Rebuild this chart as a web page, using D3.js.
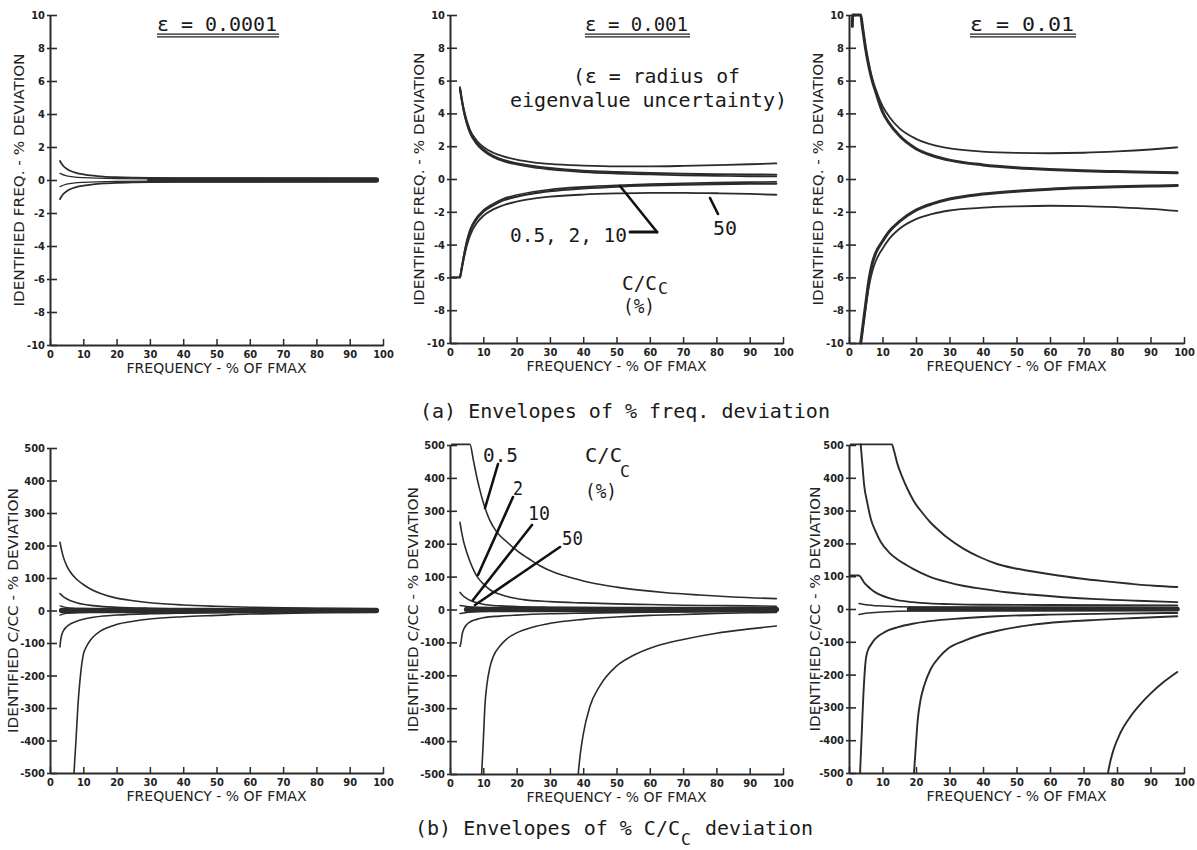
<!DOCTYPE html>
<html><head><meta charset="utf-8">
<script src="https://cdn.jsdelivr.net/npm/d3@7"></script>
<style>body{margin:0;background:#fff} svg{display:block}</style>
</head><body><svg id="c" width="1197" height="850"></svg>
<script>
// ---------------- DATA ----------------
const xTicks = [0,10,20,30,40,50,60,70,80,90,100];
const freqYTicks = [10,8,6,4,2,0,-2,-4,-6,-8,-10];
const dampYTicks = [500,400,300,200,100,0,-100,-200,-300,-400,-500];
const epsLabels = ["ε = 0.0001","ε = 0.001","ε = 0.01"];

// (a) eps = 0.0001
const tlUpper = [[3,1.15],[3.5,0.98],[4,0.85],[5,0.68],[6,0.56],[8,0.42],[10,0.34],[13,0.26],[16,0.21],[20,0.17],[25,0.14],[30,0.12],[40,0.1],[60,0.09],[98,0.08]];
const tlLower = [[3,-1.15],[3.5,-0.98],[4,-0.85],[5,-0.68],[6,-0.56],[8,-0.42],[10,-0.34],[13,-0.26],[16,-0.21],[20,-0.17],[25,-0.14],[30,-0.12],[40,-0.1],[60,-0.09],[98,-0.08]];
const tlInnerUp = [[3,0.4],[5,0.25],[10,0.14],[20,0.08],[40,0.05],[98,0.04]];
const tlInnerLow = [[3,-0.4],[5,-0.25],[10,-0.14],[20,-0.08],[40,-0.05],[98,-0.04]];
const tlBand = [[30,0],[98,0]];

// (a) eps = 0.001
const tmUp50 = [[3,5.6],[4,4.4],[5,3.6],[6,3.0],[8,2.35],[10,1.95],[13,1.6],[16,1.38],[20,1.18],[25,1.02],[30,0.92],[40,0.82],[50,0.77],[60,0.77],[70,0.8],[80,0.85],[90,0.9],[98,0.95]];
const tmUpA = [[3,5.5],[4,4.3],[5,3.45],[6,2.85],[8,2.2],[10,1.8],[13,1.4],[16,1.15],[20,0.95],[25,0.78],[30,0.66],[40,0.5],[50,0.42],[60,0.36],[70,0.32],[80,0.29],[90,0.27],[98,0.26]];
const tmUpB = [[3,5.45],[4,4.25],[5,3.4],[6,2.8],[8,2.12],[10,1.72],[13,1.33],[16,1.08],[20,0.88],[25,0.7],[30,0.58],[40,0.42],[50,0.33],[60,0.27],[70,0.22],[80,0.19],[90,0.16],[98,0.15]];
const tmLowA = [[0.6,-6],[3,-6],[3.4,-5.6],[4,-4.9],[5,-3.9],[6,-3.2],[8,-2.45],[10,-2.0],[13,-1.6],[16,-1.3],[20,-1.08],[25,-0.88],[30,-0.74],[40,-0.57],[50,-0.46],[60,-0.39],[70,-0.34],[80,-0.31],[90,-0.29],[98,-0.28]];
const tmLowB = [[3,-6],[3.4,-5.5],[4,-4.8],[5,-3.8],[6,-3.1],[8,-2.35],[10,-1.9],[13,-1.5],[16,-1.2],[20,-0.98],[25,-0.78],[30,-0.64],[40,-0.48],[50,-0.38],[60,-0.31],[70,-0.26],[80,-0.22],[90,-0.19],[98,-0.17]];
const tmLow50 = [[3,-6],[3.4,-5.6],[4,-5.0],[5,-4.1],[6,-3.45],[8,-2.7],[10,-2.25],[13,-1.85],[16,-1.6],[20,-1.38],[25,-1.2],[30,-1.08],[40,-0.95],[50,-0.88],[60,-0.84],[70,-0.84],[80,-0.87],[90,-0.91],[98,-0.96]];

// (a) eps = 0.01
const trUpA = [[1,9.3],[1.1,10],[3.5,10],[4,9.3],[5,7.9],[6,6.8],[7,5.95],[8,5.3],[10,4.1],[12,3.4],[15,2.65],[20,1.85],[25,1.42],[30,1.15],[40,0.86],[50,0.69],[60,0.58],[70,0.5],[80,0.45],[90,0.41],[98,0.38]];
const trUpB = [[3.5,10],[4,9.35],[5,7.95],[6,6.9],[7,6.05],[8,5.45],[10,4.45],[12,3.8],[15,3.1],[20,2.45],[25,2.08],[30,1.87],[40,1.67],[50,1.59],[60,1.57],[70,1.6],[80,1.68],[90,1.8],[98,1.93]];
const trLowA = [[3.5,-10],[4,-9.2],[5,-7.6],[6,-6.1],[7,-5.1],[8,-4.5],[10,-3.8],[12,-3.2],[15,-2.6],[20,-1.9],[25,-1.5],[30,-1.22],[40,-0.92],[50,-0.74],[60,-0.62],[70,-0.54],[80,-0.48],[90,-0.43],[98,-0.4]];
const trLowB = [[3.5,-10],[4,-9.3],[5,-7.8],[6,-6.5],[7,-5.6],[8,-5.0],[10,-4.25],[12,-3.65],[15,-3.05],[20,-2.45],[25,-2.12],[30,-1.92],[40,-1.75],[50,-1.67],[60,-1.63],[70,-1.65],[80,-1.72],[90,-1.82],[98,-1.95]];

// (b) eps = 0.0001
const blUp1 = [[3,210],[3.5,185],[4,165],[5,138],[6,120],[8,96],[10,80],[12,67],[15,53],[20,38],[25,30],[30,24],[40,17],[50,13],[60,10],[70,8],[80,7],[90,6],[98,5]];
const blUp2 = [[3,52],[4,43],[5,36],[6,31],[8,24],[10,19],[13,15],[16,12],[20,10],[30,7],[40,5],[60,4],[98,3]];
const blLow1 = [[3,-112],[3.2,-92],[3.5,-76],[4,-63],[5,-50],[6,-42],[8,-33],[10,-27],[13,-21],[16,-17],[20,-14],[30,-10],[40,-8],[60,-6],[98,-4]];
const blLow2 = [[7.2,-500],[7.8,-400],[8.4,-290],[9,-215],[9.5,-168],[10,-136],[11,-110],[12,-93],[13,-81],[15,-64],[17,-54],[20,-43],[25,-33],[30,-26],[40,-19],[50,-15],[60,-11],[70,-9],[80,-7],[90,-6],[98,-5]];
const blInUp = [[3,14],[5,9],[10,6],[20,4],[98,2]];
const blInLow = [[3,-14],[5,-9],[10,-6],[20,-4],[98,-2]];
const blBand = [[3.5,0],[98,0]];

// (b) eps = 0.001
const bmUp05 = [[0.5,502],[6,502],[7,455],[8,405],[9,362],[10,325],[11,295],[12,270],[14,236],[17,206],[20,180],[24,152],[27,133],[32,110],[37,95],[42,82],[50,68],[57,59],[65,51],[75,44],[85,38],[98,33]];
const bmUp2 = [[3,265],[3.5,235],[4,210],[5,175],[6,146],[7,122],[8,102],[10,78],[12,60],[15,46],[18,37],[22,30],[30,24],[40,20],[50,17],[60,15],[70,13],[80,12],[90,11],[98,10]];
const bmUp10 = [[3,52],[4,41],[5,34],[6,28],[8,21],[10,16],[15,11],[20,9],[30,7],[50,5],[98,4]];
const bmUp50 = [[3,12],[5,9],[10,6],[20,4],[98,3]];
const bmLow1 = [[3,-112],[3.3,-100],[3.6,-78],[4,-63],[5,-46],[6,-38],[8,-30],[10,-25],[15,-20],[20,-17],[30,-13],[40,-11],[60,-8],[80,-7],[98,-6]];
const bmLow2 = [[9.5,-500],[10,-400],[10.5,-290],[11,-235],[12,-175],[13,-143],[15,-111],[17,-90],[20,-71],[25,-53],[30,-42],[40,-30],[50,-23],[60,-18],[70,-15],[80,-12],[90,-10],[98,-9]];
const bmLow3 = [[38.5,-500],[39,-450],[40,-380],[42,-295],[45,-232],[50,-172],[55,-140],[62,-111],[70,-91],[80,-72],[90,-59],[98,-50]];
const bmLowIn = [[3,-12],[5,-9],[10,-6],[20,-4],[98,-3]];
const bmBand = [[5,0],[98,0]];

// (b) eps = 0.01
const brUp1 = [[0.5,502],[12.8,502],[13.5,480],[14.4,444],[16,400],[17.5,365],[19.4,328],[22,292],[24.4,263],[27,238],[29.4,217],[34,185],[39.3,157],[44,138],[49,125],[54,116],[60,106],[69,93],[76,85],[84,77],[91,71],[98,67]];
const brUp2 = [[3.5,502],[4,440],[4.5,380],[5.5,322],[6.5,275],[8,235],[9.5,204],[12,172],[14.4,152],[17,135],[19.4,121],[24,99],[29.4,82],[34,71],[39.3,62],[47,51],[54,44],[64,36],[74,30],[86,25],[98,21]];
const brUp3 = [[0.5,102],[3,102],[3.5,97],[4,89],[4.5,81],[5.5,70],[6.5,61],[8,50],[9.5,42],[12,33],[14.4,27],[19,21],[24,17],[30,15],[40,13],[60,12],[98,11]];
const brUpIn = [[3,17],[5,13],[10,9],[20,6],[98,4]];
const brLowIn = [[3,-17],[5,-13],[10,-9],[20,-6],[98,-4]];
const brLow1 = [[3.3,-500],[3.8,-380],[4.3,-260],[5,-155],[5.5,-130],[6.5,-110],[7.5,-95],[9,-81],[10.4,-72],[12,-64],[14.4,-56],[19,-45],[24,-37],[34,-28],[44,-22],[60,-17],[80,-14],[98,-12]];
const brLow2 = [[19.4,-500],[20,-410],[20.5,-340],[21.4,-275],[22.4,-235],[24.4,-183],[27,-146],[29.4,-122],[34.3,-97],[39,-80],[44,-67],[54,-49],[64,-39],[74,-33],[84,-28],[98,-22]];
const brLow3 = [[77.3,-500],[78,-465],[79,-428],[81,-378],[84,-328],[87,-290],[90,-258],[94,-222],[98,-192]];
const brBand = [[18,0],[98,0]];

// ---------------- DRAW ----------------
const svg = d3.select("#c");
const INK = "#2b2b2b";
const MONO = "'DejaVu Sans Mono','Liberation Mono',monospace";
const NARROW = "'Liberation Sans Narrow','DejaVu Sans Condensed','Liberation Sans',sans-serif";
const fmt = d => String(d);

const panels = [
  {x0:50,x1:383,yT:15,yB:345,dom:[-10,10],yt:freqYTicks,yTitle:"IDENTIFIED FREQ. - % DEVIATION",yTx:19,yLen:253,
   series:[[tlUpper,1.8],[tlLower,1.8],[tlInnerUp,1.3],[tlInnerLow,1.3],[tlBand,5.5]]},
  {x0:450,x1:783,yT:15,yB:343,dom:[-10,10],yt:freqYTicks,yTitle:"IDENTIFIED FREQ. - % DEVIATION",yTx:419,yLen:253,
   series:[[tmUp50,1.8],[tmUpA,2.2],[tmUpB,1.6],[tmLowA,2.2],[tmLowB,1.6],[tmLow50,1.8]]},
  {x0:849,x1:1184,yT:15,yB:343,dom:[-10,10],yt:freqYTicks,yTitle:"IDENTIFIED FREQ. - % DEVIATION",yTx:818,yLen:253,
   series:[[trUpA,3],[trUpB,1.8],[trLowA,3],[trLowB,1.8]]},
  {x0:50,x1:383,yT:448,yB:773,dom:[-500,500],yt:dampYTicks,yTitle:"IDENTIFIED C/CC - % DEVIATION",yTx:12.5,yLen:245,
   series:[[blUp1,1.6],[blUp2,1.6],[blLow1,1.6],[blLow2,1.6],[blInUp,1.4],[blInLow,1.4],[blBand,5.5]]},
  {x0:450,x1:783,yT:445,yB:774,dom:[-500,500],yt:dampYTicks,yTitle:"IDENTIFIED C/CC - % DEVIATION",yTx:413,yLen:245,
   series:[[bmUp05,1.6],[bmUp2,1.6],[bmUp10,1.6],[bmUp50,1.4],[bmLow1,1.6],[bmLow2,1.6],[bmLow3,1.6],[bmLowIn,1.4],[bmBand,5.5]]},
  {x0:849,x1:1184,yT:445,yB:773,dom:[-500,500],yt:dampYTicks,yTitle:"IDENTIFIED C/CC - % DEVIATION",yTx:815,yLen:245,
   series:[[brUp1,1.9],[brUp2,1.9],[brUp3,1.9],[brUpIn,1.5],[brLowIn,1.5],[brLow1,1.9],[brLow2,1.9],[brLow3,1.9],[brBand,5]]}
];

panels.forEach(p => {
  const x = d3.scaleLinear([0,100],[p.x0,p.x1]);
  const y = d3.scaleLinear(p.dom,[p.yB,p.yT]);
  const g = svg.append("g");

  // y axis
  const ya = g.append("g").attr("transform",`translate(${p.x0},0)`)
    .call(d3.axisLeft(y).tickValues(p.yt).tickFormat(fmt).tickSizeInner(-7).tickSizeOuter(0).tickPadding(5));
  ya.select(".domain").attr("stroke",INK).attr("stroke-width",2);
  ya.selectAll(".tick line").attr("x1",-3).attr("stroke",INK).attr("stroke-width",1.6);
  ya.selectAll(".tick text").attr("font-family",NARROW).attr("font-weight","bold")
    .attr("font-size",11).attr("fill","#222");

  // x axis
  const xa = g.append("g").attr("transform",`translate(0,${p.yB})`)
    .call(d3.axisBottom(x).tickValues(xTicks).tickFormat(fmt).tickSizeInner(-6).tickSizeOuter(0).tickPadding(5));
  xa.select(".domain").attr("stroke",INK).attr("stroke-width",2);
  xa.selectAll(".tick line").attr("y1",1).attr("stroke",INK).attr("stroke-width",1.5);
  xa.selectAll(".tick text").attr("font-family",NARROW).attr("font-weight","bold")
    .attr("font-size",11).attr("fill","#222");

  // axis titles
  g.append("text").attr("x",(p.x0+p.x1)/2).attr("y",p.yB+28).attr("text-anchor","middle")
    .attr("font-family","'DejaVu Sans',sans-serif").attr("font-size",14).attr("fill","#222")
    .attr("textLength",180).attr("lengthAdjust","spacingAndGlyphs")
    .text("FREQUENCY - % OF FMAX");
  g.append("text").attr("transform",`translate(${p.yTx},${(p.yT+p.yB)/2}) rotate(-90)`)
    .attr("text-anchor","middle").attr("dominant-baseline","central")
    .attr("font-family","'DejaVu Sans',sans-serif").attr("font-size",14).attr("fill","#222")
    .attr("textLength",p.yLen).attr("lengthAdjust","spacingAndGlyphs")
    .text(p.yTitle);

  // curves
  const line = d3.line().x(d=>x(d[0])).y(d=>y(d[1])).curve(d3.curveMonotoneX);
  p.series.forEach(([data,w]) => {
    g.append("path").attr("d",line(data)).attr("fill","none")
      .attr("stroke",INK).attr("stroke-width",w).attr("stroke-linejoin","round").attr("stroke-linecap","round");
  });
});

// titles with double underline
const titleBoxes = [[157,120],[585,103],[970,104]];
epsLabels.forEach((t,i) => {
  const [tx,tw] = titleBoxes[i];
  svg.append("text").attr("x",tx).attr("y",31).attr("font-family",MONO).attr("font-size",20)
    .attr("fill","#1a1a1a").attr("textLength",tw).attr("lengthAdjust","spacingAndGlyphs").text(t);
  [34.2,36.8].forEach(yy => svg.append("line").attr("x1",tx).attr("x2",tx+tw+2).attr("y1",yy).attr("y2",yy)
    .attr("stroke","#1a1a1a").attr("stroke-width",1.3));
});

function mtext(str,x,y,len,size){
  const t = svg.append("text").attr("x",x).attr("y",y).attr("font-family",MONO)
    .attr("font-size",size||20).attr("fill","#1a1a1a").text(str);
  if(len) t.attr("textLength",len).attr("lengthAdjust","spacingAndGlyphs");
  return t;
}
function seg(x1,y1,x2,y2,w){
  svg.append("line").attr("x1",x1).attr("y1",y1).attr("x2",x2).attr("y2",y2)
    .attr("stroke","#111").attr("stroke-width",w||2.6).attr("stroke-linecap","round");
}

// annotation in middle top panel
mtext("(ε = radius of",573,83,167);
mtext("eigenvalue uncertainty)",510,107,277);
mtext("0.5, 2, 10",510,242,117);
seg(630,232,657,232,3);
seg(657,232,620,186,2.6);
mtext("50",713,235,24);
seg(718,214,710,198,2.6);
mtext("C/C",622,290,35);
mtext("C",658,294,10,16);
mtext("(%)",623,313,32);

// annotation in middle bottom panel
mtext("0.5",483,462,35);
mtext("2",513,495,10);
mtext("10",528,520,22);
mtext("50",562,545,21);
mtext("C/C",585,462,37);
mtext("C",620,477,10,16);
mtext("(%)",585,498,32);
seg(498,464,485,508);
seg(513,497,478,575);
seg(532,525,473,600);
seg(560,547,475,605);

// captions
mtext("(a) Envelopes of % freq. deviation",420,418,410);
mtext("(b) Envelopes of % C/C",415,835,265);
mtext("C",681,845,10,15);
mtext("deviation",705,835,108);
</script></body></html>
